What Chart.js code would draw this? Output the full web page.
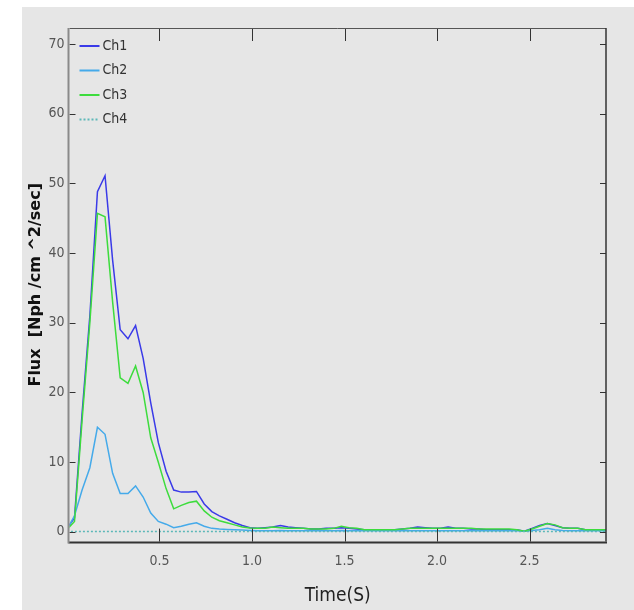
<!DOCTYPE html>
<html>
<head>
<meta charset="utf-8">
<title>Flux</title>
<script src="https://cdn.jsdelivr.net/npm/chart.js@4"></script>
<style>
    html, body { margin: 0; padding: 0; background: #ffffff; }
    #box { position: absolute; left: 22px; top: 7px; width: 612px; height: 603px; background: #e6e6e6; }
</style>
</head>
<body>
<div id="box"><canvas id="myChart"></canvas></div>
<script>

    var times = [0, 0.041, 0.082, 0.124, 0.165, 0.206, 0.247, 0.288, 0.330, 0.371,
        0.412, 0.453, 0.494, 0.536, 0.577, 0.618, 0.659, 0.700, 0.742, 0.783,
        0.824, 0.865, 0.906, 0.948, 0.989, 1.030, 1.071, 1.112, 1.154, 1.195,
        1.236, 1.277, 1.318, 1.360, 1.401, 1.442, 1.483, 1.524, 1.566, 1.607,
        1.648, 1.689, 1.730, 1.772, 1.813, 1.854, 1.895, 1.936, 1.977, 2.019,
        2.060, 2.101, 2.142, 2.184, 2.225, 2.266, 2.307, 2.348, 2.390, 2.431,
        2.472, 2.513, 2.554, 2.596, 2.637, 2.678, 2.719, 2.760, 2.802, 2.843,
        2.884, 2.925];

    var ch1 = [0.5, 2.0, 17, 31, 48.8, 51.1, 39, 29.0, 27.7, 29.6,
        24.9, 18.5, 12.8, 8.7, 6.0, 5.7, 5.7, 5.8, 4.0, 2.9,
        2.3, 1.8, 1.3, 0.9, 0.6, 0.5, 0.6, 0.7, 0.9, 0.7,
        0.6, 0.5, 0.4, 0.4, 0.5, 0.5, 0.6, 0.5, 0.4, 0.3,
        0.3, 0.3, 0.3, 0.3, 0.4, 0.5, 0.7, 0.6, 0.5, 0.5,
        0.7, 0.5, 0.5, 0.4, 0.4, 0.3, 0.3, 0.3, 0.3, 0.3,
        0.1, 0.5, 0.9, 1.2, 0.9, 0.6, 0.5, 0.5, 0.3, 0.3,
        0.3, 0.3];

    var ch2 = [0.3, 2.3, 6.0, 9.2, 15.0, 14.0, 8.4, 5.5, 5.5, 6.6,
        5.0, 2.7, 1.5, 1.1, 0.6, 0.8, 1.1, 1.3, 0.8, 0.5,
        0.4, 0.35, 0.3, 0.25, 0.2, 0.15, 0.15, 0.15, 0.2, 0.15,
        0.15, 0.15, 0.15, 0.15, 0.15, 0.15, 0.2, 0.15, 0.15, 0.15,
        0.15, 0.15, 0.15, 0.15, 0.15, 0.15, 0.15, 0.15, 0.15, 0.15,
        0.15, 0.15, 0.15, 0.15, 0.15, 0.15, 0.15, 0.15, 0.15, 0.15,
        0.1, 0.2, 0.3, 0.5, 0.3, 0.2, 0.15, 0.15, 0.15, 0.15,
        0.15, 0.15];

    var ch3 = [0.3, 1.5, 16, 30, 45.7, 45.2, 33, 22.1, 21.3, 23.8,
        20.0, 13.5, 10.0, 6.2, 3.3, 3.8, 4.2, 4.4, 3.0, 2.1,
        1.6, 1.3, 1.0, 0.7, 0.55, 0.5, 0.5, 0.7, 0.6, 0.5,
        0.5, 0.5, 0.4, 0.4, 0.4, 0.5, 0.8, 0.6, 0.5, 0.3,
        0.3, 0.3, 0.3, 0.3, 0.4, 0.5, 0.5, 0.5, 0.5, 0.5,
        0.5, 0.5, 0.5, 0.5, 0.4, 0.4, 0.4, 0.4, 0.4, 0.3,
        0.1, 0.4, 0.8, 1.2, 1.0, 0.6, 0.5, 0.5, 0.3, 0.3,
        0.3, 0.3];

    var ch4 = [0.05, 0.05, 0.05, 0.05, 0.05, 0.05, 0.05, 0.05, 0.05, 0.05,
        0.05, 0.05, 0.05, 0.05, 0.05, 0.05, 0.05, 0.05, 0.05, 0.05,
        0.05, 0.05, 0.05, 0.05, 0.05, 0.05, 0.05, 0.05, 0.05, 0.05,
        0.05, 0.05, 0.05, 0.05, 0.05, 0.05, 0.05, 0.05, 0.05, 0.05,
        0.05, 0.05, 0.05, 0.05, 0.05, 0.05, 0.05, 0.05, 0.05, 0.05,
        0.05, 0.05, 0.05, 0.05, 0.05, 0.05, 0.05, 0.05, 0.05, 0.05,
        0.05, 0.05, 0.05, 0.05, 0.05, 0.05, 0.05, 0.05, 0.05, 0.05,
        0.05, 0.05];

    var narrow = "'Liberation Sans Narrow', 'DejaVu Sans Condensed', 'Arial Narrow', sans-serif";

    function points(values) {
        var out = [];
        for (var i = 0; i < values.length; i++) {
            out.push({x: times[i], y: values[i]});
        }
        return out;
    }

    function seg(ctx, x1, y1, x2, y2) {
        ctx.beginPath();
        ctx.moveTo(x1, y1);
        ctx.lineTo(x2, y2);
        ctx.stroke();
    }

    // box round the plot + inward ticks on all four sides
    var frame = {
        id: 'frame',
        afterDraw: function (chart) {
            var ctx = chart.ctx, a = chart.chartArea;
            var xs = chart.scales.x, ys = chart.scales.y;
            ctx.save();
            ctx.strokeStyle = '#333';
            ctx.lineWidth = 1;
            xs.ticks.forEach(function (t) {
                var px = Math.round(xs.getPixelForValue(t.value)) + 0.5;
                seg(ctx, px, a.bottom, px, a.bottom - 13);
                seg(ctx, px, a.top, px, a.top + 13);
            });
            ys.ticks.forEach(function (t) {
                var py = Math.round(ys.getPixelForValue(t.value)) + 0.5;
                seg(ctx, a.left, py, a.left + 6, py);
                seg(ctx, a.right, py, a.right - 6, py);
            });
            ctx.strokeStyle = '#555';
            seg(ctx, a.left, a.top + 0.5, a.right, a.top + 0.5);
            ctx.strokeStyle = '#333';
            ctx.lineWidth = 1.5;
            seg(ctx, a.right, a.top, a.right, a.bottom);
            ctx.lineWidth = 2;
            seg(ctx, a.left - 1, a.bottom + 1, a.right + 1, a.bottom + 1);
            ctx.strokeStyle = '#8a8a8a';
            seg(ctx, a.left - 1, a.top, a.left - 1, a.bottom + 2);
            ctx.restore();
        }
    };

    var legendBox = {
        id: 'legendBox',
        afterDraw: function (chart) {
            var ctx = chart.ctx, a = chart.chartArea;
            chart.data.datasets.forEach(function (ds, i) {
                var y = a.top + 18 + i * 24.5;
                ctx.save();
                ctx.strokeStyle = ds.borderColor;
                ctx.lineWidth = 2;
                ctx.setLineDash(ds.borderDash || []);
                seg(ctx, a.left + 10, y, a.left + 30, y);
                ctx.setLineDash([]);
                ctx.fillStyle = '#333';
                ctx.font = '14px ' + narrow;
                ctx.textBaseline = 'middle';
                ctx.fillText(ds.label, a.left + 33, y);
                ctx.restore();
            });
        }
    };

    var ctx = document.getElementById('myChart');

    var data = {
        datasets: [
            {
                label: "Ch1",
                data: points(ch1),
                borderColor: "#3a3ae8",
                borderWidth: 1.5,
                order: 3
            },
            {
                label: "Ch2",
                data: points(ch2),
                borderColor: "#45aaea",
                borderWidth: 1.5,
                order: 2
            },
            {
                label: "Ch3",
                data: points(ch3),
                borderColor: "#3ddc3d",
                borderWidth: 1.5,
                order: 1
            },
            {
                label: "Ch4",
                data: points(ch4),
                borderColor: "#5cb8b8",
                borderWidth: 1.5,
                borderDash: [2, 2],
                order: 0
            }
        ]
    };

    var chart = new Chart(ctx, {
        type: 'line',
        data: data,
        plugins: [frame, legendBox],
        options: {
            responsive: true,
            maintainAspectRatio: false,
            animation: false,
            devicePixelRatio: 1,
            layout: { padding: { top: 21, right: 28, left: 0, bottom: 0 } },
            elements: {
                point: { radius: 0 },
                line: { tension: 0, fill: false }
            },
            plugins: {
                legend: { display: false },
                tooltip: { enabled: false }
            },
            scales: {
                x: {
                    type: 'linear',
                    min: 0.014,
                    max: 2.913,
                    grid: { display: false, drawTicks: false },
                    border: { display: false },
                    ticks: {
                        stepSize: 0.5,
                        includeBounds: false,
                        padding: 11,
                        color: '#555',
                        font: { family: narrow, size: 14 },
                        callback: function (v) { return v.toFixed(1); }
                    },
                    title: {
                        display: true,
                        text: 'Time(S)',
                        color: '#222',
                        font: { family: narrow, size: 19 },
                        padding: { top: 0, bottom: 3 }
                    },
                    afterFit: function (scale) { scale.height = 68.4; }
                },
                y: {
                    type: 'linear',
                    min: -1.4,
                    max: 72.3,
                    grid: { display: false, drawTicks: false },
                    border: { display: false },
                    ticks: {
                        stepSize: 10,
                        includeBounds: false,
                        padding: 5,
                        color: '#555',
                        font: { family: narrow, size: 14 }
                    },
                    title: {
                        display: true,
                        text: 'Flux  [Nph /cm ^2/sec]',
                        color: '#111',
                        font: { family: "'DejaVu Sans', Verdana, sans-serif", size: 16, weight: 'bold' },
                        padding: { top: 4, bottom: 0 }
                    },
                    afterFit: function (scale) { scale.width = 47.5; }
                }
            }
        }
    });

</script>
</body>
</html>
